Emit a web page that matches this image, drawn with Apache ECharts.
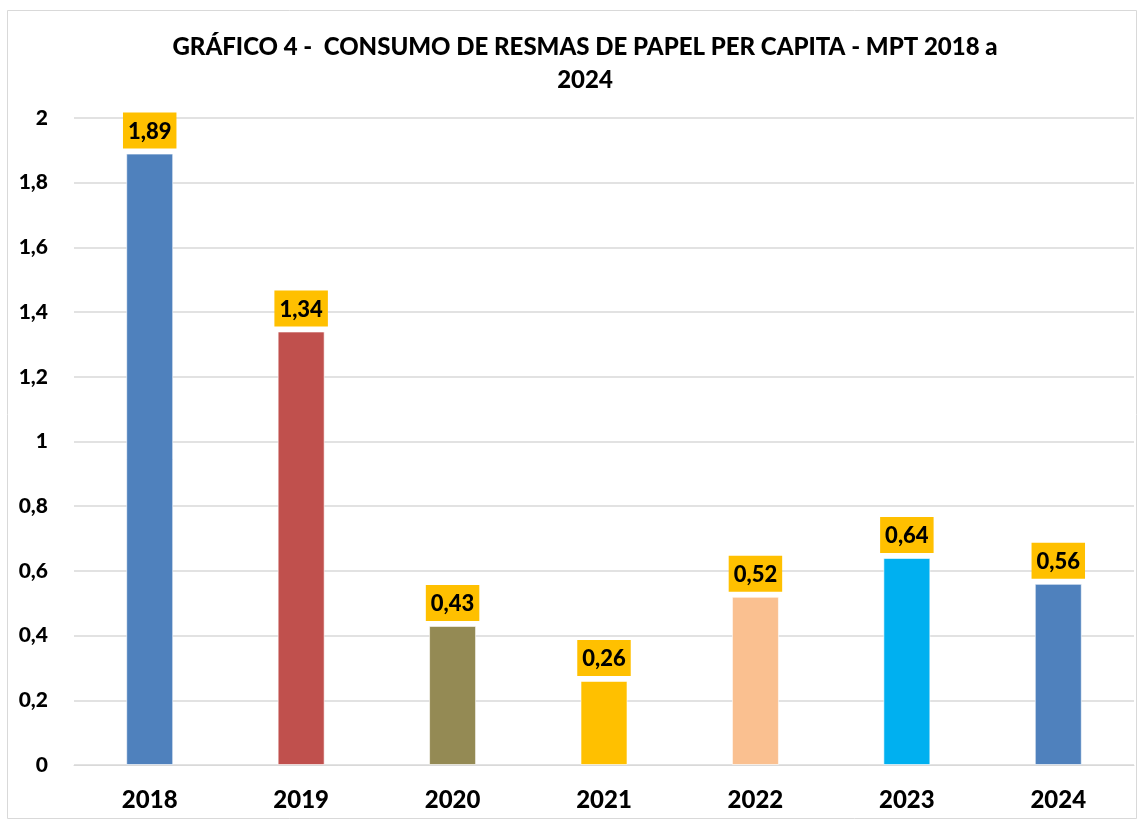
<!DOCTYPE html>
<html>
<head>
<meta charset="utf-8">
<script src="https://cdn.jsdelivr.net/npm/echarts@6/dist/echarts.min.js"></script>
<style>
  html, body { margin: 0; padding: 0; background: #fff; }
  #chart { width: 1140px; height: 820px; }
</style>
</head>
<body>
<div id="chart"></div>
<script>
// dados do gráfico
var anos = ['2018', '2019', '2020', '2021', '2022', '2023', '2024'];
var consumo = [1.89, 1.34, 0.43, 0.26, 0.52, 0.64, 0.56];
var cores = ['#4F81BD', '#C0504D', '#948A54', '#FFC000', '#FAC090', '#00B0F0', '#4F81BD'];

var fonte = 'Lato, "Open Sans", sans-serif';

var myChart = echarts.init(document.getElementById('chart'));

var option = {
  backgroundColor: '#fff',
  animation: false,
  title: {
    text: 'GRÁFICO 4 -  CONSUMO DE RESMAS DE PAPEL PER CAPITA - MPT 2018 a\n2024',
    left: 580,
    textAlign: 'center',
    top: 26,
    textStyle: {
      fontFamily: fonte,
      fontWeight: 900,
      fontSize: 24,
      color: '#000',
      lineHeight: 33
    }
  },
  graphic: [{
    type: 'rect',
    shape: { x: 7.5, y: 10.5, width: 1129, height: 808 },
    style: { fill: 'none', stroke: '#d9d9d9', lineWidth: 1 },
    silent: true
  }],
  grid: {
    left: 74,
    right: 6,
    top: 118,
    bottom: 55
  },
  xAxis: {
    type: 'category',
    data: anos,
    axisTick: { show: false },
    axisLine: { show: true, lineStyle: { color: '#d9d9d9' } },
    axisLabel: {
      margin: 23,
      fontFamily: fonte,
      fontWeight: 900,
      fontSize: 24,
      color: '#000'
    }
  },
  yAxis: {
    type: 'value',
    min: 0,
    max: 2,
    interval: 0.2,
    axisLine: { show: false },
    axisTick: { show: false },
    splitLine: { lineStyle: { color: '#d9d9d9', width: 1.5 } },
    axisLabel: {
      margin: 26,
      fontFamily: fonte,
      fontWeight: 900,
      fontSize: 21,
      color: '#000',
      formatter: function (v) {
        return String(Math.round(v * 10) / 10).replace('.', ',');
      }
    }
  },
  series: [{
    type: 'bar',
    barWidth: 47,
    data: consumo.map(function (v, i) {
      return { value: v, itemStyle: { color: cores[i] } };
    }),
    itemStyle: { borderColor: 'rgba(255,255,255,0.6)', borderWidth: 1 },
    label: {
      show: true,
      position: 'top',
      distance: 5,
      backgroundColor: '#FFC000',
      padding: [8, 5, 6, 5],
      fontFamily: fonte,
      fontWeight: 900,
      fontSize: 22,
      color: '#000',
      formatter: function (p) {
        return p.value.toFixed(2).replace('.', ',');
      }
    }
  }]
};

myChart.setOption(option);
</script>
</body>
</html>
